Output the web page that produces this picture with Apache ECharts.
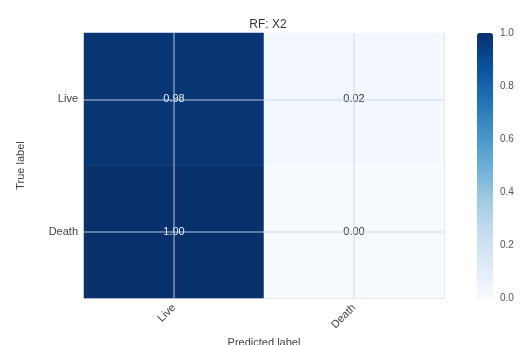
<!DOCTYPE html>
<html>
<head>
<meta charset="utf-8">
<script src="https://cdn.jsdelivr.net/npm/echarts@6/dist/echarts.min.js"></script>
<style>
  html, body { margin: 0; padding: 0; background: #fff; }
  #chart { width: 521px; height: 345px; }
</style>
</head>
<body>
<div id="chart"></div>
<script>
// Normalised confusion matrix for the RF model on X2
const predictedLabels = ['Live', 'Death'];
const trueLabels = ['Live', 'Death'];
// rows = true label, columns = predicted label
const matrixRows = [
  [0.98, 0.02],
  [1.00, 0.00]
];
const colorbarTicks = [0.0, 0.2, 0.4, 0.6, 0.8, 1.0];

// matplotlib "Blues" colormap stops
const blues = ['#f7fbff', '#deebf7', '#c6dbef', '#9ecae1', '#6baed6',
               '#4292c6', '#2171b5', '#08519c', '#08306b'];

const cells = [];
matrixRows.forEach((row, r) => row.forEach((v, c) => {
  cells.push({ value: [c, r, v], label: { color: v > 0.5 ? '#e8eef8' : '#333' } });
}));

const FONT = 'Liberation Sans, Arial, sans-serif';
const gridLine = 'rgba(200,215,238,0.45)';
const frame = '#e3e6ea';

const chart = echarts.init(document.getElementById('chart'), null, { renderer: 'canvas' });
chart.setOption({
  animation: false,
  backgroundColor: '#fff',
  textStyle: { fontFamily: FONT },
  title: {
    text: 'RF: X2',
    left: 263, top: 14, textAlign: 'center',
    textStyle: { fontSize: 12, fontWeight: 'normal', color: '#333', fontFamily: FONT }
  },
  grid: [
    { left: 84, right: 77, top: 33, bottom: 47, outerBoundsMode: 'none', containLabel: false },
    { left: 477, width: 16, top: 33, height: 265, outerBoundsMode: 'none', containLabel: false }
  ],
  xAxis: [
    {
      type: 'category', gridIndex: 0, data: predictedLabels,
      name: 'Predicted label', nameLocation: 'middle', nameGap: 38,
      nameTextStyle: { fontSize: 11, color: '#444' },
      axisLine: { show: true, lineStyle: { color: frame } },
      axisTick: { show: false },
      axisLabel: { rotate: 45, fontSize: 11, color: '#444', margin: 8 },
      splitLine: { show: false }
    },
    {
      type: 'category', gridIndex: 0, data: predictedLabels, position: 'top',
      axisLine: { show: true, lineStyle: { color: frame } },
      axisTick: { show: false }, axisLabel: { show: false }, splitLine: { show: false }
    },
    {
      type: 'value', gridIndex: 1, min: 0, max: 1, show: false
    }
  ],
  yAxis: [
    {
      type: 'category', gridIndex: 0, data: trueLabels, inverse: true,
      name: 'True label', nameLocation: 'middle', nameGap: 58, nameRotate: 90,
      nameTextStyle: { fontSize: 11, color: '#444' },
      axisLine: { show: true, lineStyle: { color: frame } },
      axisTick: { show: false },
      axisLabel: { fontSize: 11, color: '#444', margin: 6 },
      splitLine: { show: false }
    },
    {
      type: 'category', gridIndex: 0, data: trueLabels, inverse: true, position: 'right',
      axisLine: { show: true, lineStyle: { color: frame } },
      axisTick: { show: false }, axisLabel: { show: false }, splitLine: { show: false }
    },
    {
      type: 'value', gridIndex: 1, position: 'right',
      min: colorbarTicks[0], max: colorbarTicks[colorbarTicks.length - 1], interval: 0.2,
      axisLine: { show: false }, axisTick: { show: false }, splitLine: { show: false },
      axisLabel: { fontSize: 10, color: '#555', margin: 7,
                   formatter: v => v.toFixed(1) }
    }
  ],
  visualMap: {
    type: 'continuous',
    min: 0, max: 1,
    orient: 'vertical',
    left: 477, top: 33,
    itemWidth: 16, itemHeight: 265,
    padding: 0,
    calculable: false,
    seriesIndex: 0,
    inRange: { color: blues }
  },
  series: [
    {
      type: 'heatmap',
      xAxisIndex: 0, yAxisIndex: 0,
      data: cells,
      label: {
        show: true,
        fontSize: 11,
        fontFamily: FONT,
        formatter: p => p.value[2].toFixed(2)
      },
      itemStyle: { borderWidth: 0 },
      markLine: {
        silent: true,
        symbol: 'none',
        animation: false,
        label: { show: false },
        lineStyle: { color: gridLine, width: 2, type: 'solid' },
        data: [
          { xAxis: 0 }, { xAxis: 1 },
          { yAxis: 0 }, { yAxis: 1 }
        ]
      }
    }
  ]
});
</script>
</body>
</html>
